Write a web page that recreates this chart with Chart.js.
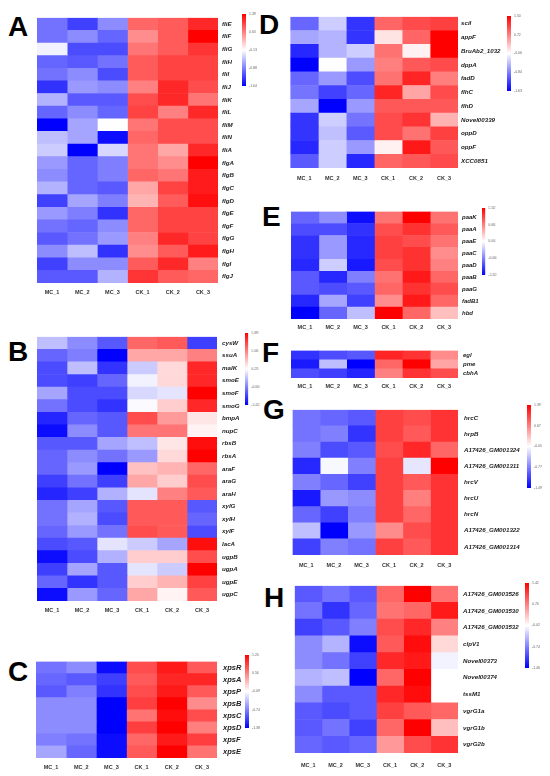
<!DOCTYPE html>
<html>
<head>
<meta charset="utf-8">
<script src="https://cdn.jsdelivr.net/npm/chart.js@4.4.1/dist/chart.umd.min.js"></script>
<style>
  body { margin: 0; background: #fff; }
  #page { position: relative; width: 550px; height: 776px; overflow: hidden; }
  #page canvas { position: absolute; }
  .tag { position: absolute; font: bold 28px Arial, "Liberation Sans", sans-serif; line-height: 28px; color: #000; }
</style>
</head>
<body>
<div id="page">
  <div class="tag" style="left:8px;top:13px">A</div>
  <div class="tag" style="left:8px;top:338px">B</div>
  <div class="tag" style="left:8px;top:658px">C</div>
  <div class="tag" style="left:259px;top:11px">D</div>
  <div class="tag" style="left:262px;top:203px">E</div>
  <div class="tag" style="left:262px;top:339px">F</div>
  <div class="tag" style="left:263px;top:396px">G</div>
  <div class="tag" style="left:264px;top:584px">H</div>

  <canvas id="heatA"></canvas><canvas id="keyA"></canvas>
  <canvas id="heatB"></canvas><canvas id="keyB"></canvas>
  <canvas id="heatC"></canvas><canvas id="keyC"></canvas>
  <canvas id="heatD"></canvas><canvas id="keyD"></canvas>
  <canvas id="heatE"></canvas><canvas id="keyE"></canvas>
  <canvas id="heatF"></canvas>
  <canvas id="heatG"></canvas><canvas id="keyG"></canvas>
  <canvas id="heatH"></canvas><canvas id="keyH"></canvas>
</div>
<script>
// Samples (columns)
const samples = ["MC_1", "MC_2", "MC_3", "CK_1", "CK_2", "CK_3"];

// A - flagellar genes
const genesA = ["fliE", "fliF", "fliG", "fliH", "fliI", "fliJ", "fliK", "fliL", "fliM", "fliN", "fliA",
  "flgA", "flgB", "flgC", "flgD", "flgE", "flgF", "flgG", "flgH", "flgI", "flgJ"];
const valuesA = [
  [-0.96, -1.26, -0.81, 0.78, 0.85, 1.15],
  [-0.96, -0.81, -1.04, 0.55, 0.85, 1.39],
  [-0.21, -1.19, -1.19, 0.70, 0.85, 1.08],
  [-1.04, -1.11, -0.96, 0.85, 1.00, 1.00],
  [-0.96, -0.81, -1.19, 0.85, 1.00, 1.00],
  [-1.34, -0.73, -0.81, 0.63, 1.15, 0.93],
  [-0.58, -1.11, -1.11, 0.93, 1.15, 0.70],
  [-1.04, -0.81, -1.04, 1.00, 0.63, 1.15],
  [-1.64, -0.66, -0.13, 0.70, 0.93, 0.93],
  [-0.51, -0.66, -1.56, 0.78, 0.93, 0.93],
  [-0.43, -1.64, -0.36, 0.70, 0.40, 1.15],
  [-0.73, -1.04, -0.89, 0.70, 0.55, 1.39],
  [-0.81, -1.04, -0.89, 0.78, 0.70, 1.23],
  [-0.58, -1.04, -1.11, 0.40, 1.00, 1.23],
  [-1.26, -0.66, -0.89, 0.32, 0.85, 1.30],
  [-0.73, -0.89, -1.34, 0.78, 1.00, 1.00],
  [-0.96, -1.04, -0.81, 0.78, 1.00, 1.00],
  [-1.11, -0.96, -0.73, 0.63, 1.15, 1.00],
  [-0.81, -0.51, -1.34, 0.55, 0.85, 1.23],
  [-1.26, -0.81, -0.81, 0.85, 1.15, 0.63],
  [-1.11, -1.11, -0.58, 1.08, 0.85, 0.78]
];
const ticksA = [1.39, 0.63, -0.13, -0.88, -1.64];

// B - ABC transporters
const genesB = ["cysW", "ssuA", "malK", "smoE", "smoF", "smoG", "bmpA", "nupC", "rbsB", "rbsA", "araF",
  "araG", "araH", "xylG", "xylH", "xylF", "lacA", "ugpB", "ugpA", "ugpE", "ugpC"];
const valuesB = [
  [-0.18, -0.51, -0.85, 1.22, 1.31, -1.01],
  [-0.76, -0.60, -1.42, 0.81, 0.81, 1.06],
  [-0.93, -0.18, -1.09, -0.10, 0.48, 1.64],
  [-0.93, -1.01, -0.76, 0.15, 0.48, 1.64],
  [-0.35, -0.93, -0.93, -0.02, 0.06, 1.89],
  [-0.68, -0.93, -1.09, 0.20, 0.56, 1.64],
  [-1.18, -0.76, -0.85, 1.39, 0.89, 0.40],
  [-1.34, -0.51, -0.85, 1.14, 1.14, 0.31],
  [-0.85, -0.85, -0.35, -0.18, 0.40, 1.80],
  [-0.76, -0.51, -0.68, -0.43, 0.48, 1.89],
  [-0.76, -0.43, -1.42, 0.64, 0.73, 1.22],
  [-1.01, -0.68, -1.01, 0.81, 0.56, 1.39],
  [-1.18, -1.01, -0.27, 0.06, 1.06, 1.31],
  [-0.68, -0.35, -0.85, 1.31, 1.31, -0.85],
  [-0.68, -0.27, -0.93, 1.31, 1.31, -0.76],
  [-0.76, -0.43, -0.68, 1.39, 1.31, -0.93],
  [-0.93, -0.85, 0.06, -0.10, -0.35, 1.80],
  [-1.34, -0.93, -0.27, 0.56, 0.56, 1.39],
  [-1.01, -0.35, -0.85, 0.06, -0.10, 1.89],
  [-0.76, -1.09, -0.85, 0.56, 0.73, 1.47],
  [-1.34, -0.43, -0.76, 0.81, 0.31, 1.31]
];
const ticksB = [1.89, 1.06, 0.23, -0.60, -1.42];

// C - type II secretion
const genesC = ["xpsR", "xpsA", "xpsP", "xpsB", "xpsC", "xpsD", "xpsF", "xpsE"];
const valuesC = [
  [-0.80, -0.67, -1.32, 0.81, 1.07, 0.75],
  [-0.86, -0.93, -1.06, 0.75, 1.01, 1.01],
  [-0.93, -0.74, -1.12, 0.81, 1.07, 0.75],
  [-0.67, -0.67, -1.38, 0.88, 1.20, 0.49],
  [-0.67, -0.67, -1.38, 0.62, 1.14, 0.81],
  [-0.67, -0.67, -1.38, 0.88, 1.20, 0.56],
  [-0.74, -0.80, -1.32, 0.68, 1.07, 0.88],
  [-0.54, -0.86, -1.32, 0.75, 1.20, 0.62]
];
const ticksC = [1.20, 0.56, -0.09, -0.74, -1.38];

// D
const genesD = ["sciI", "appF", "BruAb2_1032", "dppA", "fadD", "flhC", "flhD", "Novel00339", "oppD", "oppF", "XCC0851"];
const valuesD = [
  [-1.00, -0.37, -1.31, 0.88, 1.04, 1.11],
  [-0.61, -0.53, -1.31, 0.10, 0.88, 1.50],
  [-1.39, -0.53, -0.37, 0.80, 0.02, 1.50],
  [-1.63, -0.06, -0.69, 0.72, 0.96, 1.04],
  [-1.00, -0.69, -1.16, 0.80, 1.27, 0.72],
  [-0.92, -1.23, -1.00, 1.27, 0.49, 1.04],
  [-0.61, -1.63, -0.69, 0.96, 0.96, 0.96],
  [-1.31, -0.37, -0.92, 1.04, 1.19, 0.41],
  [-1.31, -0.45, -1.08, 1.04, 0.80, 1.11],
  [-1.39, -0.37, -0.69, 0.02, 1.35, 0.96],
  [-1.08, -0.37, -1.39, 0.88, 0.96, 1.04]
];
const ticksD = [1.50, 0.72, -0.06, -0.84, -1.63];

// E - phenylacetate degradation
const genesE = ["paaK", "paaA", "paaE", "paaC", "paaD", "paaB", "paaG", "fadB1", "hbd"];
const valuesE = [
  [-0.79, -0.59, -1.25, 0.73, 1.32, 0.73],
  [-0.92, -0.92, -1.06, 0.92, 1.06, 0.86],
  [-1.06, -0.53, -1.12, 0.99, 0.92, 0.73],
  [-1.06, -0.53, -1.12, 0.99, 1.06, 0.59],
  [-1.12, -0.26, -1.19, 0.92, 1.06, 0.66],
  [-0.86, -1.12, -0.66, 0.73, 1.19, 0.79],
  [-0.86, -0.92, -0.86, 0.79, 1.06, 0.92],
  [-1.12, -0.46, -0.99, 0.59, 1.19, 0.79],
  [-1.32, -0.79, -0.33, 1.32, 0.79, 0.33]
];
const ticksE = [1.32, 0.66, 0.00, -0.66, -1.32];

// F - cell wall degrading enzymes (no colour key drawn)
const genesF = ["egl", "pme", "cbhA"];
const valuesF = [
  [-1.04, -0.91, -0.85, 1.11, 1.04, 0.59],
  [-1.17, -0.33, -1.30, 0.78, 1.30, 0.46],
  [-0.91, -0.98, -1.11, 0.65, 1.04, 0.91]
];
const rangeF = [-1.30, 1.30];

// G - type III secretion
const genesG = ["hrcC", "hrpB", "A17426_GM001324", "A17426_GM001311", "hrcV", "hrcU", "hrcN", "A17426_GM001322", "A17426_GM001314"];
const valuesG = [
  [-0.84, -0.91, -0.99, 1.03, 0.96, 1.10],
  [-0.84, -0.77, -1.20, 1.03, 0.89, 1.10],
  [-0.77, -1.06, -0.99, 0.96, 1.17, 0.81],
  [-1.27, -0.09, -0.77, 1.03, -0.19, 1.39],
  [-0.77, -0.91, -1.13, 1.03, 0.89, 1.10],
  [-1.35, -0.63, -0.70, 1.03, 0.67, 1.10],
  [-0.91, -1.13, -0.77, 1.03, 0.81, 1.10],
  [-0.41, -1.49, -0.63, 0.60, 0.96, 1.10],
  [-1.13, -0.77, -0.84, 1.03, 0.89, 1.10]
];
const ticksG = [1.39, 0.67, -0.05, -0.77, -1.49];

// H - type VI secretion
const genesH = ["A17426_GM003526", "A17426_GM003530", "A17426_GM003532", "clpV1", "Novel00373", "Novel00374",
  "tssM1", "vgrG1a", "vgrG1b", "vgrG2b"];
const valuesH = [
  [-0.96, -0.81, -0.96, 0.84, 1.42, 0.77],
  [-0.81, -1.17, -0.88, 0.77, 0.84, 1.28],
  [-1.10, -0.96, -0.74, 0.99, 1.20, 0.70],
  [-0.67, -0.45, -1.39, 0.92, 1.35, 0.20],
  [-0.67, -0.81, -1.10, 1.20, 1.28, -0.09],
  [-0.45, -0.38, -1.46, 0.84, 1.42, -0.02],
  [-0.67, -0.96, -0.96, 1.20, 1.35, -0.02],
  [-0.96, -1.03, -0.96, 1.06, 0.92, 0.84],
  [-0.96, -0.81, -1.10, 0.84, 1.42, 0.34],
  [-0.88, -0.96, -0.88, 0.56, 0.99, 1.13]
];
const ticksH = [1.42, 0.70, -0.02, -0.74, -1.46];

const FONT = 'Arial, "Liberation Sans", sans-serif';

// blue -> white -> red
function heatColor(v, lo, hi) {
  const mid = (lo + hi) / 2;
  if (v <= mid) {
    const c = Math.round(255 * Math.max(0, (v - lo) / (mid - lo)));
    return `rgb(${c},${c},255)`;
  }
  const c = Math.round(255 * (1 - Math.min(1, (v - mid) / (hi - mid))));
  return `rgb(255,${c},${c})`;
}

function place(canvas, x, y, w, h) {
  canvas.width = w; canvas.height = h;
  canvas.style.left = x + "px"; canvas.style.top = y + "px";
  canvas.style.width = w + "px"; canvas.style.height = h + "px";
}

// box = [left, top, width, height] of the cell block
function drawHeatmap(id, box, genes, values, lo, hi, o) {
  const canvas = document.getElementById(id);
  const labelW = 90, labelH = 20;
  place(canvas, box[0], box[1], box[2] + labelW, box[3] + labelH);

  new Chart(canvas, {
    type: "bar",
    data: {
      labels: genes,
      datasets: samples.map((s, j) => ({
        label: s,
        data: genes.map(() => [j, j + 1]),
        backgroundColor: values.map(row => heatColor(row[j], lo, hi)),
        borderWidth: 0,
        barPercentage: 1,
        categoryPercentage: 1,
        grouped: false
      }))
    },
    options: {
      indexAxis: "y",
      responsive: false,
      animation: false,
      layout: { padding: 0 },
      plugins: { legend: { display: false }, tooltip: { enabled: false } },
      scales: {
        x: {
          type: "linear", min: 0, max: samples.length,
          grid: { display: false, drawTicks: false },
          border: { display: false },
          afterBuildTicks: s => { s.ticks = samples.map((_, j) => ({ value: j + 0.5 })); },
          afterFit: s => { s.height = labelH; },
          ticks: {
            autoSkip: false, maxRotation: 0, padding: o.colGap,
            color: "#333", font: { family: FONT, size: 5.5, weight: "bold" },
            callback: (v, i) => samples[i]
          }
        },
        y: {
          position: "right",
          grid: { display: false, drawTicks: false },
          border: { display: false },
          afterFit: s => { s.width = labelW; },
          ticks: {
            autoSkip: false, padding: o.rowGap,
            color: "#222", font: { family: FONT, size: o.rowSize, style: "italic", weight: "bold" }
          }
        }
      }
    }
  });
}

// colour key, box = [left, top, width, height] of the bar
function drawKey(id, box, ticks) {
  const canvas = document.getElementById(id);
  const lo = Math.min(...ticks), hi = Math.max(...ticks);
  place(canvas, box[0], box[1] - 4, box[2] + 24, box[3] + 8);

  new Chart(canvas, {
    type: "bar",
    data: {
      labels: [""],
      datasets: [{
        data: [[lo, hi]],
        barPercentage: 1,
        categoryPercentage: 1,
        borderWidth: 0,
        backgroundColor: c => {
          const a = c.chart.chartArea;
          if (!a) return "#fff";
          const g = c.chart.ctx.createLinearGradient(0, a.bottom, 0, a.top);
          g.addColorStop(0, "rgb(0,0,255)");
          g.addColorStop(0.5, "rgb(255,255,255)");
          g.addColorStop(1, "rgb(255,0,0)");
          return g;
        }
      }]
    },
    options: {
      responsive: false,
      animation: false,
      layout: { padding: { top: 4, bottom: 4 } },
      plugins: { legend: { display: false }, tooltip: { enabled: false } },
      scales: {
        x: { display: false },
        y: {
          position: "right", min: lo, max: hi,
          grid: { display: false, drawTicks: false },
          border: { display: false },
          afterBuildTicks: s => { s.ticks = ticks.map(v => ({ value: v })); },
          afterFit: s => { s.width = 24; },
          ticks: {
            padding: 3, color: "#666",
            font: { family: FONT, size: 3.5 },
            callback: v => v.toFixed(2)
          }
        }
      }
    }
  });
}

const lims = t => [Math.min(...t), Math.max(...t)];

drawHeatmap("heatA", [37, 10, 181, 273], genesA, valuesA, ...lims(ticksA), { rowSize: 6.2, rowGap: 4, colGap: 6 });
drawKey("keyA", [242, 13, 4, 74], ticksA);

drawHeatmap("heatB", [37, 328, 180, 273], genesB, valuesB, ...lims(ticksB), { rowSize: 6.2, rowGap: 5, colGap: 6 });
drawKey("keyB", [245, 332, 3.5, 74], ticksB);

drawHeatmap("heatC", [36, 651, 181, 107], genesC, valuesC, ...lims(ticksC), { rowSize: 7.5, rowGap: 6, colGap: 6 });
drawKey("keyC", [245, 654, 4, 75], ticksC);

drawHeatmap("heatD", [290, 10, 168, 158], genesD, valuesD, ...lims(ticksD), { rowSize: 6.2, rowGap: 3, colGap: 7 });
drawKey("keyD", [507, 15, 4, 77], ticksD);

drawHeatmap("heatE", [291, 204, 167, 115], genesE, valuesE, ...lims(ticksE), { rowSize: 6, rowGap: 4, colGap: 5 });
drawKey("keyE", [482, 207, 3.5, 69], ticksE);

drawHeatmap("heatF", [291, 342, 167, 36], genesF, valuesF, rangeF[0], rangeF[1], { rowSize: 6, rowGap: 5, colGap: 5 });

drawHeatmap("heatG", [292, 400, 166, 155], genesG, valuesG, ...lims(ticksG), { rowSize: 6.2, rowGap: 6, colGap: 7 });
drawKey("keyG", [527, 404, 4, 85], ticksG);

drawHeatmap("heatH", [292, 577, 166, 176], genesH, valuesH, ...lims(ticksH), { rowSize: 6.2, rowGap: 5, colGap: 9 });
drawKey("keyH", [525, 582, 4, 87], ticksH);
</script>
</body>
</html>
